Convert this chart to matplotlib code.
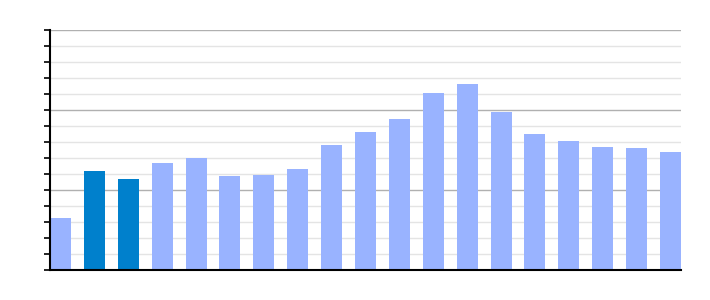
import matplotlib
matplotlib.use('Agg')
import matplotlib.pyplot as plt
from matplotlib.ticker import MultipleLocator

values = [3.25, 6.19, 5.69, 6.69, 7.0, 5.88, 5.94, 6.31, 7.81, 8.63,
          9.44, 11.06, 11.63, 9.88, 8.5, 8.06, 7.69, 7.63, 7.38]
highlight = [1, 2]

light = '#99b3ff'
dark = '#0080cc'
colors = [dark if i in highlight else light for i in range(len(values))]

fig = plt.figure(figsize=(7.1, 3.0), dpi=100)
ax = fig.add_axes([50 / 710, 30 / 300, 631 / 710, 240 / 300])

xs = list(range(len(values)))
ax.bar(xs, values, width=0.62, color=colors, zorder=3)

ax.set_xlim(-0.31, len(values) - 1 + 0.31)
ax.set_ylim(0, 15)
ax.yaxis.set_major_locator(MultipleLocator(5))
ax.yaxis.set_minor_locator(MultipleLocator(1))
ax.grid(axis='y', which='major', color='#b0b0b0', linewidth=1, zorder=0)
ax.grid(axis='y', which='minor', color='#e4e4e4', linewidth=1, zorder=0)

ax.set_xticks([])
ax.tick_params(axis='y', which='both', direction='out', length=4, width=1.2,
               labelleft=False, color='black')
for side in ['top', 'right']:
    ax.spines[side].set_visible(False)
ax.spines['left'].set_linewidth(1.5)
ax.spines['bottom'].set_linewidth(1.5)
ax.spines['left'].set_zorder(4)
ax.spines['bottom'].set_zorder(4)

fig.savefig('out.png', dpi=100)
